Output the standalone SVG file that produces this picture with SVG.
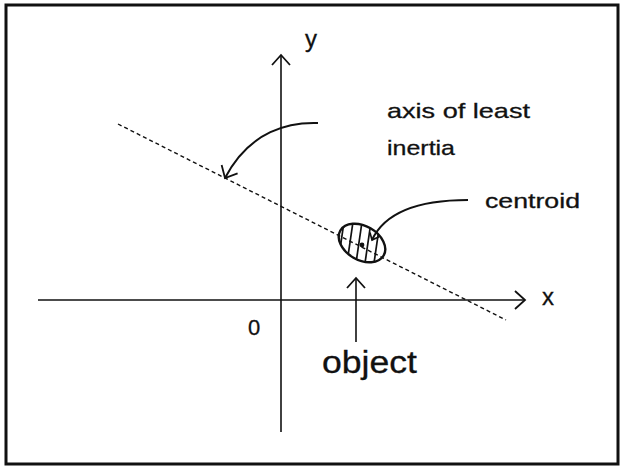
<svg xmlns="http://www.w3.org/2000/svg" width="620" height="466" viewBox="0 0 620 466">
<defs>
<style>
.ln{fill:none;stroke:#111;stroke-width:1.6}
.cv{fill:none;stroke:#111;stroke-width:2}
.txt{font-family:"Liberation Sans",Arial,sans-serif;fill:#111;stroke:#111;stroke-width:0.3}
.h{stroke:#111;stroke-width:1.7}
</style>
<marker id="ah" markerUnits="userSpaceOnUse" markerWidth="24" markerHeight="24" refX="12" refY="12" orient="auto">
<path d="M2,3 L12,12 L2,21" fill="none" stroke="#111" stroke-width="1.8"/>
</marker>
<marker id="ahs" markerUnits="userSpaceOnUse" markerWidth="16" markerHeight="16" refX="8" refY="8" orient="auto">
<path d="M2,3 L8,8 L2,13" fill="none" stroke="#111" stroke-width="1.6"/>
</marker>
<clipPath id="ec">
<ellipse cx="362" cy="243" rx="25" ry="17" transform="rotate(30 362 243)"/>
</clipPath>
</defs>
<rect x="6" y="5" width="612" height="459" fill="#fff" stroke="#111" stroke-width="3"/>
<g id="connectors">
<line id="x-axis" class="ln" x1="38" y1="300" x2="525" y2="300" marker-end="url(#ah)"/>
<line id="y-axis" class="ln" x1="281" y1="432" x2="281" y2="55" marker-end="url(#ah)"/>
<line id="axis-line" x1="118" y1="124" x2="506" y2="320" stroke="#111" stroke-width="1.4" stroke-dasharray="4,3"/>
<path id="inertia-arrow" class="cv" d="M318,123 C290,122 250,130 225,178" marker-end="url(#ah)"/>
<path id="centroid-arrow" class="cv" d="M468,200 C420,200 385,212 372,240" marker-end="url(#ahs)"/>
<line id="object-arrow" class="ln" x1="356" y1="342" x2="356" y2="278" marker-end="url(#ah)"/>
</g>
<g id="object-shape">
<g clip-path="url(#ec)">
<line class="h" x1="345" y1="215" x2="337" y2="270"/>
<line class="h" x1="354" y1="215" x2="346" y2="270"/>
<line class="h" x1="363" y1="215" x2="355" y2="270"/>
<line class="h" x1="372" y1="215" x2="364" y2="270"/>
<line class="h" x1="381" y1="215" x2="373" y2="270"/>
</g>
<ellipse cx="362" cy="243" rx="25" ry="17" transform="rotate(30 362 243)" fill="none" stroke="#111" stroke-width="2.4"/>
<circle cx="362" cy="245" r="2.4" fill="#111"/>
</g>
<g id="labels">
<text class="txt" x="305" y="47" font-size="24">y</text>
<text class="txt" x="542" y="305" font-size="24">x</text>
<text class="txt" x="248" y="335" font-size="22">0</text>
<text class="txt" x="387" y="118" font-size="21" textLength="143" lengthAdjust="spacingAndGlyphs">axis of least</text>
<text class="txt" x="387" y="155" font-size="21" textLength="68" lengthAdjust="spacingAndGlyphs">inertia</text>
<text class="txt" x="485" y="208" font-size="21" textLength="95" lengthAdjust="spacingAndGlyphs">centroid</text>
<text class="txt" x="322" y="373" font-size="31" textLength="95" lengthAdjust="spacingAndGlyphs">object</text>
</g>
</svg>
